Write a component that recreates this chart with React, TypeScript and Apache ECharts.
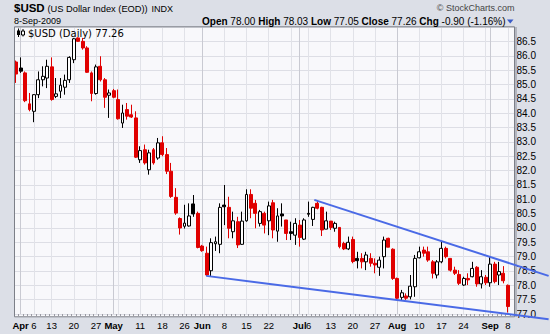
import React, { useEffect, useRef } from 'react';
import * as echarts from 'echarts';

// ---- trading calendar (Mar 31 2009 .. Sep 8 2009) ----
const monthDays: [string, number[]][] = [
  ['03', [31]],
  ['04', [1, 2, 3, 6, 7, 8, 9, 13, 14, 15, 16, 17, 20, 21, 22, 23, 24, 27, 28, 29, 30]],
  ['05', [1, 4, 5, 6, 7, 8, 11, 12, 13, 14, 15, 18, 19, 20, 21, 22, 26, 27, 28, 29]],
  ['06', [1, 2, 3, 4, 5, 8, 9, 10, 11, 12, 15, 16, 17, 18, 19, 22, 23, 24, 25, 26, 29, 30]],
  ['07', [1, 2, 6, 7, 8, 9, 10, 13, 14, 15, 16, 17, 20, 21, 22, 23, 24, 27, 28, 29, 30, 31]],
  ['08', [3, 4, 5, 6, 7, 10, 11, 12, 13, 14, 17, 18, 19, 20, 21, 24, 25, 26, 27, 28, 31]],
  ['09', [1, 2, 3, 4, 8]],
];
const dates: string[] = [];
monthDays.forEach(([m, ds]) => ds.forEach((d) => dates.push(`2009-${m}-${d < 10 ? '0' + d : d}`)));

// ---- OHLC values ----
const opens = [
  85.79, 85.58, 85.41, 84.33, 84.07, 84.65, 85.17, 85.23, 85.62, 84.59, 84.77, 84.91, 85.17, 85.87, 86.63, 86.51,
  86.28, 85.41, 84.69, 85.64, 85.17, 84.63, 84.79, 84.48, 83.66, 84.13, 83.95, 83.84, 82.38, 82.73, 82.03, 82.73,
  82.44, 82.97, 82.56, 81.98, 81.07, 80.33, 80.06, 80.07, 80.84, 80.51, 79.37, 79.12, 78.51, 79.45, 79.43, 80.8,
  80.72, 79.87, 80.22, 79.43, 80.25, 81.17, 80.86, 80.16, 80.51, 80.25, 80.88, 79.89, 80.49, 80.28, 79.87, 79.75,
  80.1, 79.61, 80.51, 80.3, 80.86, 80.72, 79.96, 80.24, 79.99, 80.02, 79.46, 79.27, 79.6, 78.94, 78.94, 78.82,
  78.94, 78.77, 78.63, 79.0, 79.64, 79.26, 78.24, 77.58, 77.63, 77.6, 77.95, 78.96, 79.23, 79.17, 78.82, 78.36,
  78.82, 79.29, 78.94, 78.53, 78.38, 78.01, 78.24, 78.3, 78.63, 78.05, 78.28, 78.09, 78.74, 78.36, 78.42, 78.0,
];
const highs = [
  85.84, 85.95, 85.46, 84.71, 84.67, 85.46, 85.64, 85.87, 85.95, 85.23, 85.23, 85.35, 85.99, 86.63, 86.65, 86.63,
  86.34, 85.46, 85.7, 85.99, 85.23, 84.83, 84.85, 84.83, 84.3, 84.36, 84.3, 84.07, 82.85, 82.91, 82.73, 82.79,
  83.14, 83.2, 82.79, 82.27, 81.39, 80.37, 80.81, 80.86, 81.15, 80.57, 79.41, 79.35, 79.64, 79.7, 80.86, 81.5,
  81.09, 80.57, 80.39, 80.57, 81.35, 81.35, 80.98, 80.63, 80.57, 80.92, 80.98, 80.69, 80.86, 80.28, 80.22, 80.34,
  80.28, 80.34, 80.92, 80.74, 80.95, 80.74, 80.57, 80.24, 80.22, 80.02, 79.52, 79.7, 79.7, 79.17, 79.12, 79.17,
  79.12, 78.94, 79.0, 79.7, 79.66, 79.29, 78.27, 77.84, 77.72, 78.36, 79.06, 79.35, 79.35, 79.35, 78.88, 78.88,
  79.52, 79.35, 78.94, 78.65, 78.53, 78.3, 78.42, 78.82, 78.67, 78.53, 78.36, 79.0, 78.82, 78.82, 78.67, 78.03,
];
const lows = [
  85.06, 85.41, 84.39, 84.07, 83.69, 84.53, 84.94, 84.88, 84.44, 84.53, 84.53, 84.65, 85.06, 85.75, 86.49, 86.22,
  85.41, 84.42, 84.65, 85.11, 84.19, 83.84, 84.53, 83.78, 83.49, 83.78, 83.84, 82.44, 82.27, 82.21, 81.86, 82.21,
  82.38, 82.5, 81.88, 81.05, 80.46, 79.77, 79.98, 80.05, 80.39, 79.29, 79.17, 78.32, 78.3, 79.2, 79.12, 80.1,
  79.64, 79.64, 79.3, 79.41, 80.22, 80.34, 79.99, 80.05, 79.81, 79.75, 79.64, 79.52, 80.05, 79.58, 79.58, 79.41,
  79.35, 79.58, 80.39, 80.07, 80.65, 79.72, 79.96, 79.93, 79.87, 79.29, 79.23, 79.23, 78.77, 78.59, 78.59, 78.53,
  78.65, 78.42, 78.33, 78.59, 79.33, 78.19, 77.51, 77.49, 77.49, 77.51, 77.6, 78.94, 79.0, 78.82, 78.24, 78.24,
  78.77, 78.94, 78.48, 78.36, 78.01, 77.98, 78.01, 78.28, 77.95, 77.89, 78.01, 77.95, 78.07, 78.01, 78.07, 77.05,
];
const closes = [
  85.37, 85.47, 84.44, 84.13, 84.65, 85.17, 85.29, 85.64, 84.48, 84.68, 84.98, 85.15, 85.95, 86.6, 86.51, 86.28,
  85.43, 84.69, 85.62, 85.17, 84.56, 84.71, 84.56, 83.81, 84.01, 83.9, 83.87, 82.47, 82.7, 82.27, 82.62, 82.27,
  82.97, 82.56, 81.98, 81.1, 80.52, 80.0, 80.17, 80.42, 80.49, 79.32, 79.21, 78.36, 79.49, 79.52, 80.72, 80.74,
  79.99, 80.25, 79.41, 80.24, 81.17, 80.69, 80.51, 80.57, 80.1, 80.77, 79.93, 80.42, 80.42, 79.81, 79.81, 80.16,
  79.67, 80.28, 80.48, 80.72, 80.69, 79.93, 80.25, 80.02, 80.16, 79.35, 79.27, 79.5, 78.83, 78.86, 78.82, 79.06,
  78.77, 78.71, 78.88, 79.58, 79.33, 78.24, 77.55, 77.74, 77.55, 77.97, 78.94, 79.17, 79.12, 78.88, 78.42, 78.82,
  79.29, 79.0, 78.53, 78.42, 78.07, 78.24, 78.19, 78.59, 78.05, 78.3, 78.09, 78.74, 78.13, 78.48, 78.16, 77.26,
];

// ---- axis labels / grid ----
const xLabels: [string, string, boolean][] = [
  ['2009-04-01', 'Apr', true], ['2009-04-06', '6', false], ['2009-04-13', '13', false], ['2009-04-20', '20', false],
  ['2009-04-27', '27', false], ['2009-05-01', 'May', true], ['2009-05-11', '11', false], ['2009-05-18', '18', false],
  ['2009-05-26', '26', false], ['2009-06-01', 'Jun', true], ['2009-06-08', '8', false], ['2009-06-15', '15', false],
  ['2009-06-22', '22', false], ['2009-07-01', 'Jul', true], ['2009-07-06', '6', false], ['2009-07-13', '13', false],
  ['2009-07-20', '20', false], ['2009-07-27', '27', false], ['2009-08-03', 'Aug', true], ['2009-08-10', '10', false],
  ['2009-08-17', '17', false], ['2009-08-24', '24', false], ['2009-09-01', 'Sep', true], ['2009-09-08', '8', false],
];
const weekLineDates = [
  '2009-04-06', '2009-04-13', '2009-04-20', '2009-04-27', '2009-05-04', '2009-05-11', '2009-05-18', '2009-05-26',
  '2009-06-08', '2009-06-15', '2009-06-22', '2009-06-29', '2009-07-06', '2009-07-13', '2009-07-20', '2009-07-27',
  '2009-08-10', '2009-08-17', '2009-08-24', '2009-08-31', '2009-09-08',
];
const monthLineDates = ['2009-04-01', '2009-05-01', '2009-06-01', '2009-07-01', '2009-08-03', '2009-09-01'];
const yMin = 77;
const yMax = 87;
const yStep = 0.5;

// ---- trendlines: [bar index, price] ----
const upperTrend: [number, number][] = [[67.3, 80.98], [120.2, 78.33]];
const lowerTrend: [number, number][] = [[42.9, 78.33], [120.2, 76.82]];

// ---- header texts ----
const symbolText = '$USD';
const nameText = '(US Dollar Index (EOD))';
const exchText = 'INDX';
const dateText = '8-Sep-2009';
const quoteLabels = ['Open', 'High', 'Low', 'Close', 'Chg'];
const quoteValues = ['78.00', '78.03', '77.05', '77.26', '-0.90 (-1.16%)'];
const legendText = '$USD (Daily) 77.26';

const RED = '#e00000';
const BLACK = '#000000';
const SANS = 'Liberation Sans, Arial, sans-serif';

export default function App() {
  const ref = useRef<HTMLDivElement>(null);
  useEffect(() => {
    if (!ref.current) return;
    const chart = echarts.init(ref.current, undefined, { renderer: 'svg' });
    const labelMap: Record<string, [string, boolean]> = {};
    xLabels.forEach(([d, t, b]) => (labelMap[d] = [t, b]));

    const candleData = opens.map((o, i) => {
      const c = closes[i];
      const prev = i > 0 ? closes[i - 1] : o;
      const col = c < prev ? RED : BLACK;
      const fill = c > o ? '#ffffff' : col;
      return {
        value: [o, c, lows[i], highs[i]],
        itemStyle: { color: fill, color0: fill, borderColor: col, borderColor0: col },
      };
    });

    const vLines = [
      ...weekLineDates.map((d) => ({ xAxis: d, lineStyle: { color: '#e1e2e8', width: 1, type: 'solid' } })),
      ...monthLineDates.map((d) => ({ xAxis: d, lineStyle: { color: '#c9cad2', width: 1, type: 'solid' } })),
    ];

    chart.setOption({
      animation: false,
      backgroundColor: '#dcdfe7',
      grid: {
        left: 14,
        top: 27.3,
        width: 500.5,
        height: 286.7,
        show: true,
        backgroundColor: '#f8f8fb',
        borderWidth: 0,
      },
      xAxis: {
        type: 'category',
        data: [...dates, ''],
        boundaryGap: true,
        axisLine: { show: false },
        axisTick: { show: true, interval: 0, length: 2, lineStyle: { color: '#9a9aa2' } },
        splitLine: { show: false },
        axisLabel: {
          interval: (_i: number, v: string) => !!labelMap[v],
          margin: 6,
          formatter: (v: string) => {
            const l = labelMap[v];
            if (!l) return '';
            return l[1] ? `{b|${l[0]}}` : `{n|${l[0]}}`;
          },
          rich: {
            b: { fontFamily: SANS, fontSize: 9.5, fontWeight: 'bold', color: '#000' },
            n: { fontFamily: SANS, fontSize: 9.5, color: '#000' },
          },
        },
      },
      yAxis: {
        type: 'value',
        position: 'right',
        min: yMin,
        max: yMax,
        interval: yStep,
        axisLine: { show: false },
        axisTick: { show: true, length: 2, lineStyle: { color: '#666' } },
        axisLabel: {
          margin: 2,
          fontFamily: SANS,
          fontSize: 10,
          color: '#000',
          showMaxLabel: false,
          formatter: (v: number) => v.toFixed(1),
        },
        splitLine: { show: true, lineStyle: { color: '#dddee5', width: 1 } },
      },
      series: [
        {
          type: 'line',
          data: [],
          z: 1,
          silent: true,
          symbol: 'none',
          markLine: {
            z: 1,
            silent: true,
            symbol: ['none', 'none'],
            label: { show: false },
            animation: false,
            data: vLines,
          },
        },
        {
          type: 'candlestick',
          z: 3,
          barWidth: 3.4,
          data: candleData,
          itemStyle: { borderWidth: 1 },
        },
      ],
    });

    const p0 = chart.convertToPixel({ gridIndex: 0 }, [0, yMin]) as number[];
    const p1 = chart.convertToPixel({ gridIndex: 0 }, [111, yMax]) as number[];
    const toPx = ([i, p]: [number, number]) => [
      p0[0] + (i * (p1[0] - p0[0])) / 111,
      p0[1] + ((p - yMin) * (p1[1] - p0[1])) / (yMax - yMin),
    ];
    const trend = (pts: [number, number][]) => {
      const a = toPx(pts[0]);
      const b = toPx(pts[1]);
      return {
        type: 'line',
        z: 40,
        silent: true,
        shape: { x1: a[0], y1: a[1], x2: b[0], y2: b[1] },
        style: { stroke: '#4a6ae6', lineWidth: 2 },
      };
    };

    const quoteRich =
      quoteLabels.map((l, i) => `{b|${l}} ${quoteValues[i]}`).join(' ');

    chart.setOption({
      graphic: [
        { type: 'rect', z: -1, silent: true, shape: { x: 14, y: 313.5, width: 500.5, height: 3.2 }, style: { fill: '#f8f8fb' } },
        { type: 'rect', z: 30, silent: true, shape: { x: 515, y: 27, width: 2, height: 290 }, style: { fill: '#b4b7c0' } },
        { type: 'rect', z: 31, silent: true, shape: { x: 14.5, y: 26.8, width: 500, height: 290 }, style: { fill: 'none', stroke: '#7c7f88', lineWidth: 1 } },
        trend(upperTrend),
        trend(lowerTrend),
        { type: 'text', z: 50, style: { text: symbolText, x: 14, y: 8, font: `bold 11.5px ${SANS}`, fill: '#000', textVerticalAlign: 'middle', verticalAlign: 'middle' } },
        { type: 'text', z: 50, style: { text: nameText, x: 47.5, y: 8.5, font: `9.3px ${SANS}`, fill: '#000', textVerticalAlign: 'middle', verticalAlign: 'middle' } },
        { type: 'text', z: 50, style: { text: exchText, x: 151.5, y: 8.5, font: `9px ${SANS}`, fill: '#000', textVerticalAlign: 'middle', verticalAlign: 'middle' } },
        { type: 'text', z: 50, style: { text: dateText, x: 14, y: 21, font: `9px ${SANS}`, fill: '#000', textVerticalAlign: 'middle', verticalAlign: 'middle' } },
        { type: 'text', z: 50, style: { text: '\u00a9 StockCharts.com', x: 514.5, y: 8, font: `9px ${SANS}`, fill: '#444', textAlign: 'right', align: 'right', textVerticalAlign: 'middle', verticalAlign: 'middle' } },
        {
          type: 'text',
          z: 50,
          style: {
            text: quoteRich,
            x: 505.5,
            y: 21.5,
            font: `10px ${SANS}`,
            fill: '#000',
            textAlign: 'right',
            align: 'right',
            textVerticalAlign: 'middle',
            verticalAlign: 'middle',
            rich: { b: { fontFamily: SANS, fontSize: 10, fontWeight: 'bold', fill: '#000', color: '#000' } },
          },
        },
        { type: 'polygon', z: 50, shape: { points: [[507, 19.5], [513.5, 19.5], [510.25, 23.5]] }, style: { fill: '#3a5cc8' } },
        // legend icon
        { type: 'line', z: 50, shape: { x1: 18.5, y1: 28.5, x2: 18.5, y2: 37 }, style: { stroke: '#000', lineWidth: 1 } },
        { type: 'rect', z: 51, shape: { x: 17, y: 30.5, width: 3, height: 4.5 }, style: { fill: '#000' } },
        { type: 'line', z: 50, shape: { x1: 23, y1: 29, x2: 23, y2: 36.5 }, style: { stroke: '#000', lineWidth: 1 } },
        { type: 'rect', z: 51, shape: { x: 21.5, y: 31, width: 3, height: 4 }, style: { fill: '#fff', stroke: '#000', lineWidth: 1 } },
        { type: 'text', z: 50, style: { text: legendText, x: 28, y: 33, font: `10px DejaVu Sans, Verdana, sans-serif`, fill: '#000', textVerticalAlign: 'middle', verticalAlign: 'middle' } },
      ],
    });

    return () => chart.dispose();
  }, []);
  return (
    <div
      ref={ref}
      style={{ position: 'absolute', left: 0, top: 0, width: 550, height: 334 }}
    />
  );
}
